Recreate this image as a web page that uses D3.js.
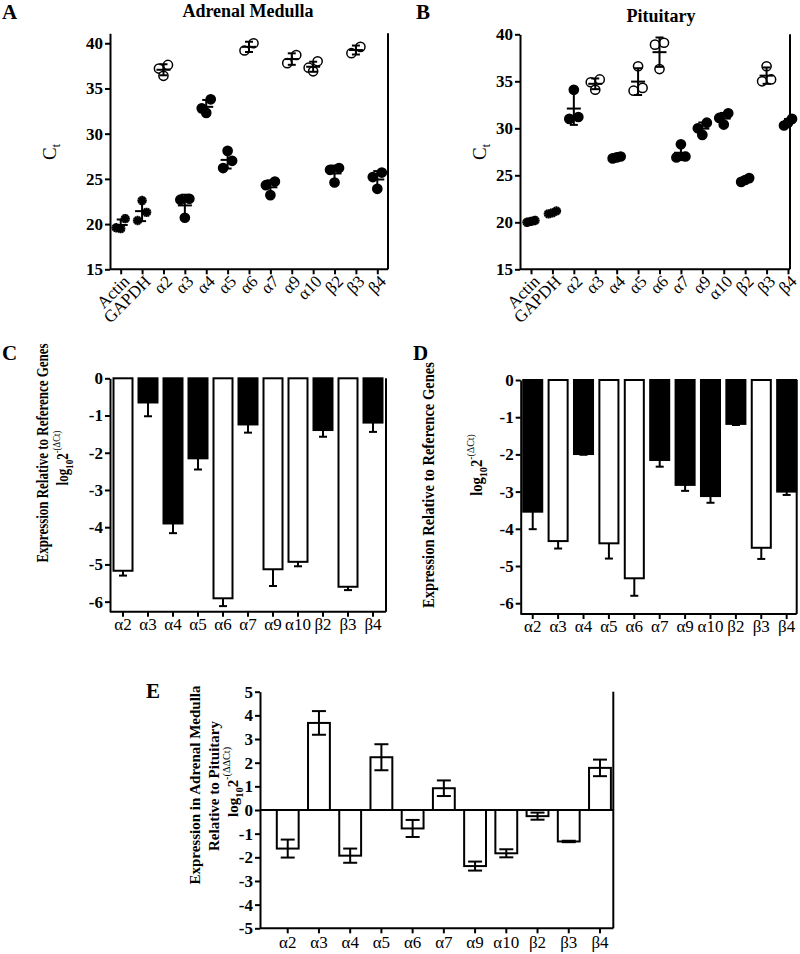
<!DOCTYPE html>
<html>
<head>
<meta charset="utf-8">
<script src="https://cdn.jsdelivr.net/npm/d3@7"></script>
<style>
  body { margin: 0; background: #fff; }
  svg, svg text { font-family: "Liberation Serif", "Times New Roman", serif; }
  .axis path, .axis line { stroke: #000; stroke-width: 2; }
  .axis text { font-family: "Liberation Serif", "Times New Roman", serif; font-size: 17px; font-weight: bold; fill: #000; }
  .axis .xlab { font-weight: normal; }
</style>
</head>
<body>
<svg id="fig" width="800" height="954"></svg>
<script>
/* global d3 */

// ---- data ----
var ctGenes = ["Actin", "GAPDH", "α2", "α3", "α4", "α5", "α6", "α7", "α9", "α10", "β2", "β3", "β4"];
var subunits = ctGenes.slice(2);

// raw Ct replicates, adrenal medulla
var amCt = [
    [19.5, 19.6, 20.6], [22.6, 21.3, 20.4], [37.6, 37.2, 36.4], [22.8, 22.7, 20.7],
    [33.8, 32.8, 32.3], [28.1, 27.0, 26.2], [39.2, 40.0], [24.7, 24.3, 23.2],
    [37.8, 38.7], [38.0, 37.3, 36.9], [26.2, 26.0, 24.6], [38.9, 39.6], [25.7, 25.2, 23.9]
];
var amMarker = ["star", "star", "open", "fill", "fill", "fill", "open", "fill", "open", "open", "fill", "open", "fill"];

// raw Ct replicates, pituitary
var pitCt = [
    [20.0, 20.1, 20.2], [20.9, 21.0, 21.2], [34.1, 31.2, 31.0], [35.2, 34.9, 34.1],
    [27.0, 26.9, 26.8], [36.6, 34.3, 34.0], [39.1, 38.9, 36.3], [28.3, 27.0, 26.9],
    [30.6, 30.0, 29.3], [31.6, 31.1, 30.4], [24.7, 24.5, 24.3], [36.6, 35.2, 35.0], [31.0, 30.6, 30.3]
];
var pitMarker = ["star", "star", "fill", "open", "fill", "open", "open", "fill", "fill", "fill", "fill", "open", "fill"];

// log10 2^-(dCt), mean and error
var amRel = [-5.17, -0.65, -3.9, -2.15, -5.91, -1.24, -5.13, -4.93, -1.39, -5.6, -1.19];
var amRelErr = [0.13, 0.37, 0.26, 0.3, 0.21, 0.22, 0.45, 0.12, 0.18, 0.09, 0.25];
var pitRel = [-3.54, -4.33, -1.99, -4.39, -5.33, -2.15, -2.82, -3.12, -1.18, -4.51, -3.0];
var pitRelErr = [0.47, 0.2, 0.02, 0.41, 0.47, 0.18, 0.16, 0.18, 0.03, 0.3, 0.09];

// log10 2^-(ddCt), adrenal medulla vs pituitary
var ddRel = [-1.63, 3.68, -1.93, 2.23, -0.78, 0.92, -2.37, -1.83, -0.26, -1.33, 1.78];
var ddRelErr = [0.38, 0.5, 0.3, 0.55, 0.36, 0.33, 0.19, 0.17, 0.15, 0.03, 0.35];

var ctTicks = [15, 20, 25, 30, 35, 40];
var relTicks = [0, -1, -2, -3, -4, -5, -6];
var ddTicks = [5, 4, 3, 2, 1, 0, -1, -2, -3, -4, -5];

var svg = d3.select("#fig");
var plain = function (d) { return String(d); };

function letter(t, x, y) {
    svg.append("text").attr("x", x).attr("y", y)
        .attr("font-size", 21).attr("font-weight", "bold").text(t);
}

// group replicates that would overlap and spread them sideways
function spread(vals, y, r) {
    var order = vals.map(function (v, i) { return i; })
        .sort(function (a, b) { return vals[b] - vals[a]; });
    var groups = [], cur = null;
    order.forEach(function (i) {
        if (cur && Math.abs(y(vals[i]) - y(vals[cur[0]])) < 2 * r) cur.push(i);
        else { cur = [i]; groups.push(cur); }
    });
    var off = [];
    groups.forEach(function (gr) {
        var step = gr.length === 2 ? 9 : 4;
        gr.sort(function (a, b) { return vals[a] - vals[b]; });
        gr.forEach(function (i, k) { off[i] = (k - (gr.length - 1) / 2) * step; });
    });
    return off;
}

// Ct scatter panel (A, B)
function ctPanel(p) {
    var g = svg.append("g");
    var y = d3.scaleLinear().domain([15, p.yMax]).range([p.bottom, p.top]);
    var x = d3.scalePoint().domain(ctGenes).range([p.x0, p.x1]);

    g.append("g").attr("class", "axis")
        .attr("transform", "translate(" + p.left + ",0)")
        .call(d3.axisLeft(y).tickValues(ctTicks).tickFormat(plain).tickSize(5).tickSizeOuter(0).tickPadding(2));

    var xa = g.append("g").attr("class", "axis")
        .attr("transform", "translate(0," + p.bottom + ")")
        .call(d3.axisBottom(x).tickSize(5).tickSizeOuter(0).tickFormat(""));
    xa.select(".domain").attr("d", "M" + p.left + ",0H" + p.right);
    xa.selectAll(".tick text").remove();
    xa.selectAll(".tick").append("text")
        .attr("class", "xlab")
        .attr("text-anchor", "end").attr("dy", "0.35em")
        .attr("transform", "translate(5,9)rotate(-45)")
        .text(function (d) { return d; });

    g.append("line")
        .attr("x1", p.right).attr("x2", p.right)
        .attr("y1", p.top).attr("y2", p.bottom)
        .attr("stroke", "#000").attr("stroke-width", 2);

    g.append("text").attr("x", p.titleX).attr("y", p.titleY)
        .attr("text-anchor", "middle").attr("font-size", 18).attr("font-weight", "bold")
        .text(p.title);

    var yl = g.append("text")
        .attr("transform", "translate(" + p.labelX + "," + p.labelY + ")rotate(-90)")
        .attr("text-anchor", "middle").attr("font-size", 19);
    yl.append("tspan").text("C");
    yl.append("tspan").attr("font-size", 12).attr("dy", 4).text("t");

    var r = 4.6;
    p.data.forEach(function (vals, i) {
        var cx = x(ctGenes[i]);
        var kind = p.markers[i];
        var off = spread(vals, y, r);
        vals.forEach(function (v, j) {
            var px = cx + off[j], py = y(v);
            if (kind === "star") {
                [0, 90].forEach(function (a) {
                    g.append("path")
                        .attr("transform", "translate(" + px + "," + py + ")rotate(" + a + ")")
                        .attr("d", d3.symbol(d3.symbolAsterisk, 62)())
                        .attr("stroke", "#000").attr("stroke-width", 2).attr("fill", "none");
                });
            } else {
                g.append("circle").attr("cx", px).attr("cy", py).attr("r", r)
                    .attr("fill", kind === "open" ? "#fff" : "#000")
                    .attr("stroke", "#000").attr("stroke-width", 1.5);
            }
        });
        var m = d3.mean(vals), sd = d3.deviation(vals) || 0;
        var eb = g.append("g").attr("stroke", "#000").attr("stroke-width", 2);
        eb.append("line").attr("x1", cx - 7).attr("x2", cx + 7).attr("y1", y(m)).attr("y2", y(m));
        eb.append("line").attr("x1", cx).attr("x2", cx).attr("y1", y(m - sd)).attr("y2", y(m + sd));
        [m - sd, m + sd].forEach(function (e) {
            eb.append("line").attr("x1", cx - 4).attr("x2", cx + 4).attr("y1", y(e)).attr("y2", y(e));
        });
    });
}

// rotated, possibly condensed, bold axis title line
function vLabel(g, t, pos, size, sx) {
    return g.append("text")
        .attr("transform", "translate(" + pos[0] + "," + pos[1] + ")rotate(-90)scale(" + sx + ",1)")
        .attr("text-anchor", "middle").attr("font-size", size).attr("font-weight", "bold")
        .text(t);
}

// relative expression bars (C, D, E)
function barPanel(p) {
    var g = svg.append("g");
    var y = d3.scaleLinear().domain(p.yDomain).range([p.bottom, p.top]);
    var x = d3.scaleBand().domain(subunits).range([p.x0, p.x1])
        .paddingInner(p.pad).paddingOuter(0);
    var bw = x.bandwidth();

    g.append("g").attr("class", "axis")
        .attr("transform", "translate(" + p.left + ",0)")
        .call(d3.axisLeft(y).tickValues(p.ticks).tickFormat(plain).tickSize(5).tickSizeOuter(0).tickPadding(2));

    var xa = g.append("g").attr("class", "axis")
        .attr("transform", "translate(0," + p.bottom + ")")
        .call(d3.axisBottom(x).tickSize(5).tickSizeOuter(0).tickPadding(p.xPad));
    xa.select(".domain").attr("d", "M" + p.left + ",0H" + p.right);
    xa.selectAll(".tick text").attr("class", "xlab");

    g.append("line")
        .attr("x1", p.right).attr("x2", p.right)
        .attr("y1", p.top).attr("y2", p.bottom)
        .attr("stroke", "#000").attr("stroke-width", 2);

    var bars = g.append("g");
    p.values.forEach(function (v, i) {
        var cx = x(subunits[i]) + bw / 2;
        var e = p.errs[i];
        var lo = v < 0 ? v - e : v + e;
        var eb = g.append("g").attr("stroke", "#000").attr("stroke-width", 2);
        if (p.twoSided) {
            eb.append("line").attr("x1", cx).attr("x2", cx).attr("y1", y(v - e)).attr("y2", y(v + e));
            [v - e, v + e].forEach(function (t) {
                eb.append("line").attr("x1", cx - 7).attr("x2", cx + 7).attr("y1", y(t)).attr("y2", y(t));
            });
        } else {
            eb.append("line").attr("x1", cx).attr("x2", cx).attr("y1", y(v)).attr("y2", y(lo));
            eb.append("line").attr("x1", cx - 4).attr("x2", cx + 4).attr("y1", y(lo)).attr("y2", y(lo));
        }
        bars.append("rect")
            .attr("x", x(subunits[i])).attr("width", bw)
            .attr("y", y(Math.max(0, v))).attr("height", Math.abs(y(v) - y(0)))
            .attr("fill", p.open(i) ? "#fff" : "#000")
            .attr("stroke", "#000").attr("stroke-width", 2);
    });
    if (p.twoSided) bars.raise().selectAll("rect").attr("fill", "none");

    if (p.zeroLine) {
        g.append("line").attr("x1", p.left).attr("x2", p.right)
            .attr("y1", y(0)).attr("y2", y(0))
            .attr("stroke", "#000").attr("stroke-width", 2);
    }

    p.label.forEach(function (t, k) {
        vLabel(g, t, p.labelPos[k], p.labelSize, p.labelScale);
    });
    var lp = p.labelPos[p.label.length];
    var ll = vLabel(g, "", lp, p.labelSize, p.labelScale);
    ll.append("tspan").text("log");
    ll.append("tspan").attr("font-size", p.labelSize * 0.7).attr("dy", 5).text("10");
    ll.append("tspan").attr("dy", -5).text("2");
    ll.append("tspan").attr("font-size", p.labelSize * 0.68).attr("font-weight", "normal")
        .attr("dy", -8).text(p.sup);
}

letter("A", 2, 19);
letter("B", 416, 19);
letter("C", 2, 360);
letter("D", 413, 360);
letter("E", 146, 698);

ctPanel({
    data: amCt, markers: amMarker, title: "Adrenal Medulla", titleX: 248, titleY: 17,
    left: 110, right: 388, top: 33.3, bottom: 269.3, yMax: 41.1,
    x0: 120.7, x1: 377.3, labelX: 56, labelY: 152
});
ctPanel({
    data: pitCt, markers: pitMarker, title: "Pituitary", titleX: 661, titleY: 22,
    left: 520, right: 790, top: 34.3, bottom: 269.3, yMax: 40,
    x0: 531, x1: 788, labelX: 486, labelY: 152
});

barPanel({
    values: amRel, errs: amRelErr, open: function (i) { return amMarker[i + 2] === "open"; },
    yDomain: [-6.27, 0], ticks: relTicks, top: 378.3, bottom: 611.7, xPad: 1,
    left: 110, right: 386, x0: 113.5, x1: 382.5, pad: 0.24,
    label: ["Expression Relative to Reference Genes"], labelPos: [[48, 453], [68, 458]],
    labelSize: 16, labelScale: 0.81, sup: "-(ΔCt)"
});
barPanel({
    values: pitRel, errs: pitRelErr, open: function (i) { return pitMarker[i + 2] === "open"; },
    yDomain: [-6.29, 0], ticks: relTicks, top: 380, bottom: 614, xPad: 1,
    left: 520.7, right: 796.7, x0: 523.2, x1: 796.2, pad: 0.25,
    label: ["Expression Relative to Reference Genes"], labelPos: [[434, 485], [482, 465]],
    labelSize: 16, labelScale: 0.91, sup: "-(ΔCt)"
});
barPanel({
    values: ddRel, errs: ddRelErr, open: function () { return true; }, twoSided: true, zeroLine: true,
    yDomain: [-5, 5], ticks: ddTicks, top: 691.7, bottom: 928.3, xPad: 3,
    left: 260, right: 613.3, x0: 276.8, x1: 610.9, pad: 0.3,
    label: ["Expression in Adrenal Medulla", "Relative to Pituitary"],
    labelPos: [[200, 785], [219, 786], [238, 782]],
    labelSize: 15, labelScale: 1, sup: "-(ΔΔCt)"
});
</script>
</body>
</html>
